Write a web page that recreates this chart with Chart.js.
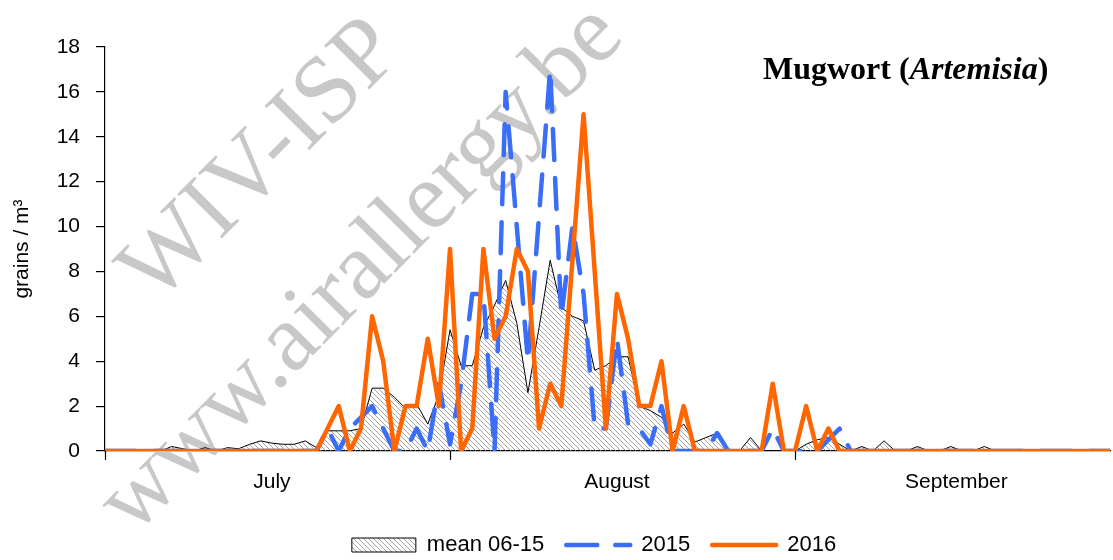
<!DOCTYPE html>
<html lang="en">
<head>
  <meta charset="utf-8" />
  <title>Mugwort (Artemisia)</title>
  <style>
    body { margin: 0; background: #fff; }
    #wrap { width: 1113px; height: 560px; position: relative; }
  </style>
</head>
<body>
  <div id="wrap"><canvas id="chart"></canvas></div>

  <script src="https://cdn.jsdelivr.net/npm/chart.js@4.4.4/dist/chart.umd.min.js"></script>
  <script>
    // day index 0 = 1 July ... 91 = 30 September
    const days = Array.from({ length: 92 }, (_, i) => i);

    const mean0615 = [
      0, 0, 0, 0, 0, 0, 0.2, 0.1, 0, 0.15,
      0, 0.15, 0.1, 0.3, 0.45, 0.35, 0.3, 0.3, 0.45, 0.15,
      0.9, 0.9, 0.9, 1.0, 2.8, 2.8, 2.4, 1.9, 2.1, 1.2,
      2.5, 5.4, 3.8, 3.8, 5.5, 6.5, 7.6, 5.7, 2.6, 5.5,
      8.5, 6.4, 6.0, 5.8, 3.6, 3.8, 4.2, 4.2, 2.0, 1.8,
      1.5, 0.8, 1.2, 0.4, 0.6, 0.8, 0, 0, 0.6, 0,
      0, 0, 0, 0.3, 0.5, 0.6, 0.3, 0, 0.2, 0,
      0.45, 0, 0, 0.2, 0, 0, 0.2, 0, 0, 0.2,
      0, 0, 0, 0, 0, 0, 0, 0, 0, 0,
      0, 0
    ];

    const y2015 = [
      0, 0, 0, 0, 0, 0, 0, 0, 0, 0,
      0, 0, 0, 0, 0, 0, 0, 0, 0, 0,
      1, 0, 1, 1.5, 2, 1, 0, 0, 1, 0,
      3, 0.3, 3, 7, 7, 0, 16, 10, 4, 10.5,
      17, 6, 10, 7, 1, 1, 5, 1.2, 1, 0.3,
      2, 0, 0, 0, 0, 0.8, 0, 0, 0, 0,
      1, 0, 0, 0, 0, 0.5, 1, 0, 0, 0,
      0, 0, 0, 0, 0, 0, 0, 0, 0, 0,
      0, 0, 0, 0, 0, 0, 0, 0, 0, 0,
      0, 0
    ];

    const y2016 = [
      0, 0, 0, 0, 0, 0, 0, 0, 0, 0,
      0, 0, 0, 0, 0, 0, 0, 0, 0, 0,
      1, 2, 0, 1, 6, 4, 0, 2, 2, 5,
      2, 9, 0, 1, 9, 5, 6, 9, 8, 1,
      3, 2, 8.5, 15, 8, 1, 7, 5, 2, 2,
      4, 0, 2, 0, 0, 0, 0, 0, 0, 0,
      3, 0, 0, 2, 0, 1, 0, 0, 0, 0,
      0, 0, 0, 0, 0, 0, 0, 0, 0, 0,
      0, 0, 0, 0, 0, 0, 0, 0, 0, 0,
      0, 0
    ];

    const monthNames = ['July', 'August', 'September'];
    const monthCenters = [15, 46, 76.5];
    const monthStarts = [0, 31, 62];
    const yTicks = [0, 2, 4, 6, 8, 10, 12, 14, 16, 18];

    const FONT = "Arial, 'Liberation Sans', sans-serif";
    const SERIF = "'Times New Roman', 'Liberation Serif', serif";

    // hatch pattern for the mean area
    function hatch() {
      const s = 5;
      const c = document.createElement('canvas');
      c.width = s; c.height = s;
      const g = c.getContext('2d');
      g.strokeStyle = '#8c8c8c';
      g.lineWidth = 0.8;
      g.beginPath();
      g.moveTo(-1, -1); g.lineTo(s + 1, s + 1);
      g.moveTo(-1, s - 1); g.lineTo(1, s + 1);
      g.moveTo(s - 1, -1); g.lineTo(s + 1, 1);
      g.stroke();
      return g.createPattern(c, 'repeat');
    }
    const hatchFill = hatch();

    const toXY = arr => arr.map((v, i) => ({ x: days[i], y: v }));

    // watermark + title + month tick marks
    const decor = {
      id: 'decor',
      beforeDatasetsDraw(chart) {
        const ctx = chart.ctx;
        const marks = [['WIV-ISP', 262, 162], ['www.airallergy.be', 362, 270]];
        marks.forEach(([t, cx, cy]) => {
          ctx.save();
          ctx.fillStyle = '#c8c8c8';
          ctx.font = '96px ' + SERIF;
          ctx.textAlign = 'center';
          ctx.textBaseline = 'middle';
          ctx.translate(cx, cy);
          ctx.rotate(-0.79);
          ctx.fillText(t, 0, 0);
          ctx.restore();
        });
      },
      afterDraw(chart) {
        const ctx = chart.ctx;
        const x = chart.scales.x;
        const bottom = chart.chartArea.bottom;
        ctx.save();
        ctx.strokeStyle = '#000';
        ctx.lineWidth = 1.2;
        monthStarts.forEach(d => {
          const px = Math.round(x.getPixelForValue(d)) + 0.5;
          ctx.beginPath();
          ctx.moveTo(px, bottom);
          ctx.lineTo(px, bottom + 9);
          ctx.stroke();
        });

        // title with italic genus
        ctx.fillStyle = '#000';
        ctx.textBaseline = 'alphabetic';
        let tx = 763;
        const ty = 79;
        const parts = [
          ['Mugwort (', 'bold 32px ' + SERIF],
          ['Artemisia', 'italic bold 32px ' + SERIF],
          [')', 'bold 32px ' + SERIF]
        ];
        parts.forEach(([t, f]) => {
          ctx.font = f;
          ctx.fillText(t, tx, ty);
          tx += ctx.measureText(t).width;
        });
        ctx.restore();
      },
      afterLayout(chart) {
        const lg = chart.legend;
        lg.left += 39; lg.right += 39;
        lg.top += 6; lg.bottom += 6;
      }
    };

    new Chart(document.getElementById('chart'), {
      type: 'line',
      data: {
        datasets: [
          {
            label: 'mean 06-15',
            data: toXY(mean0615),
            borderColor: '#000',
            borderWidth: 1,
            backgroundColor: hatchFill,
            fill: 'origin',
            pointRadius: 0,
            tension: 0,
            order: 3
          },
          {
            label: '2015',
            data: toXY(y2015),
            borderColor: '#3b6ef8',
            borderWidth: 4.5,
            borderDash: [31, 18],
            borderCapStyle: 'round',
            borderJoinStyle: 'round',
            fill: false,
            pointRadius: 0,
            tension: 0,
            order: 2
          },
          {
            label: '2016',
            data: toXY(y2016),
            borderColor: '#ff6600',
            borderWidth: 4.5,
            borderCapStyle: 'round',
            borderJoinStyle: 'round',
            fill: false,
            pointRadius: 0,
            tension: 0,
            order: 1
          }
        ]
      },
      options: {
        responsive: true,
        maintainAspectRatio: false,
        animation: false,
        layout: { padding: { top: 47, right: 3, left: 0, bottom: 0 } },
        plugins: {
          tooltip: { enabled: false },
          legend: {
            position: 'bottom',
            labels: {
              color: '#000',
              font: { family: FONT, size: 22 },
              usePointStyle: true,
              pointStyleWidth: 64,
              boxHeight: 14,
              padding: 22,
              generateLabels(chart) {
                const ds = chart.data.datasets;
                return [
                  { text: ds[0].label, fillStyle: hatchFill, strokeStyle: '#000', lineWidth: 1,
                    pointStyle: 'rect', datasetIndex: 0, fontColor: '#000' },
                  { text: ds[1].label, fillStyle: 'rgba(0,0,0,0)', strokeStyle: ds[1].borderColor, lineWidth: 4.5,
                    lineDash: [31, 18], lineCap: 'round', pointStyle: 'line', datasetIndex: 1, fontColor: '#000' },
                  { text: ds[2].label, fillStyle: 'rgba(0,0,0,0)', strokeStyle: ds[2].borderColor, lineWidth: 4.5,
                    lineCap: 'round', pointStyle: 'line', datasetIndex: 2, fontColor: '#000' }
                ];
              }
            }
          }
        },
        scales: {
          x: {
            type: 'linear',
            min: 0,
            max: 90.3,
            afterBuildTicks: s => { s.ticks = monthCenters.map(v => ({ value: v })); },
            afterFit: s => { s.height = 55; },
            grid: { display: false },
            border: { display: true, color: '#000', width: 1.2 },
            ticks: {
              color: '#000',
              font: { family: FONT, size: 21 },
              padding: 11,
              maxRotation: 0,
              callback: v => monthNames[monthCenters.indexOf(v)]
            }
          },
          y: {
            min: 0,
            max: 18,
            afterBuildTicks: s => { s.ticks = yTicks.map(v => ({ value: v })); },
            afterFit: s => { s.width = 105; },
            grid: { display: true, drawOnChartArea: false, drawTicks: true, tickLength: 9, color: '#000', lineWidth: 1.2 },
            border: { display: true, color: '#000', width: 1.2 },
            ticks: {
              color: '#000',
              font: { family: FONT, size: 21 },
              padding: 16
            },
            title: {
              display: true,
              text: 'grains / m³',
              color: '#000',
              font: { family: FONT, size: 21 },
              padding: { top: 10, bottom: 0 }
            }
          }
        }
      },
      plugins: [decor]
    });
  </script>
</body>
</html>
